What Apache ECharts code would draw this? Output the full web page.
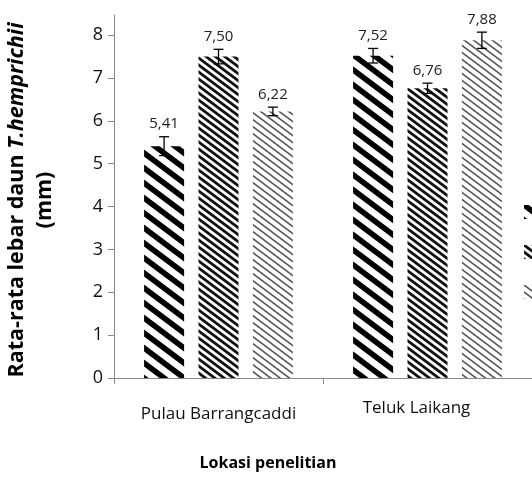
<!DOCTYPE html>
<html>
<head>
<meta charset="utf-8">
<script src="https://cdn.jsdelivr.net/npm/echarts@6/dist/echarts.min.js"></script>
<style>
  html, body { margin: 0; padding: 0; background: #fff; }
  #chart { width: 532px; height: 497px; }
</style>
</head>
<body>
<div id="chart"></div>
<script>
// Leaf width of T. hemprichii per location and station
const categories = ['Pulau Barrangcaddi', 'Teluk Laikang'];
const seriesNames = ['Stasiun 1', 'Stasiun 2', 'Stasiun 3'];
const station1 = [5.41, 7.52];
const station2 = [7.50, 6.76];
const station3 = [6.22, 7.88];
const errors1 = [0.22, 0.17];
const errors2 = [0.17, 0.12];
const errors3 = [0.10, 0.19];
const yTicks = [0, 1, 2, 3, 4, 5, 6, 7, 8];

const values = [station1, station2, station3];
const errors = [errors1, errors2, errors3];

// Diagonal stripe fills for the bars
function stripes(w, h, period, slope, width, color) {
  const c = document.createElement('canvas');
  c.width = w; c.height = h;
  const ctx = c.getContext('2d');
  ctx.fillStyle = '#fff';
  ctx.fillRect(0, 0, w, h);
  ctx.strokeStyle = color;
  ctx.lineWidth = width;
  for (let k = -h * 2; k <= h * 2; k += period) {
    ctx.beginPath();
    ctx.moveTo(-10, k - 10 * slope);
    ctx.lineTo(w + 10, k + (w + 10) * slope);
    ctx.stroke();
  }
  return { image: c, repeat: 'repeat' };
}
const fills = [
  stripes(20, 15, 15, 0.75, 5.6, '#000'),
  stripes(28, 21, 7, 0.75, 2.8, '#111'),
  stripes(28, 21, 7, 0.75, 1.6, '#555')
];

const BAR_W = 40;
const BAR_GAP = 14.4;
const FONT = '"Open Sans", "Noto Sans", sans-serif';

const barSeries = values.map((arr, s) => ({
  name: seriesNames[s],
  type: 'bar',
  data: arr,
  barWidth: BAR_W,
  barGap: (BAR_GAP / BAR_W * 100) + '%',
  itemStyle: { color: fills[s] },
  z: 2
}));

const errData = [];
values.forEach((arr, s) => arr.forEach((v, i) => errData.push([i, v, errors[s][i], s])));

const errorSeries = {
  type: 'custom',
  data: errData,
  z: 5,
  silent: true,
  renderItem: function (params, api) {
    const cat = api.value(0), v = api.value(1), e = api.value(2), s = api.value(3);
    const offset = (s - 1) * (BAR_W + BAR_GAP);
    const x = api.coord([cat, v])[0] + offset;
    const yTop = api.coord([cat, v + e])[1];
    const yBot = api.coord([cat, v - e])[1];
    const cap = 5;
    const st = { stroke: '#000', lineWidth: 1.3 };
    return {
      type: 'group',
      children: [
        { type: 'line', shape: { x1: x, y1: yTop, x2: x, y2: yBot }, style: st },
        { type: 'line', shape: { x1: x - cap, y1: yTop, x2: x + cap, y2: yTop }, style: st },
        { type: 'line', shape: { x1: x - cap, y1: yBot, x2: x + cap, y2: yBot }, style: st },
        {
          type: 'text',
          style: {
            x: x, y: yTop - 5,
            text: v.toFixed(2).replace('.', ','),
            align: 'center', verticalAlign: 'bottom',
            font: '15px ' + FONT, fill: '#222'
          }
        }
      ]
    };
  }
};

const chart = echarts.init(document.getElementById('chart'), null, { renderer: 'canvas' });
chart.setOption({
  animation: false,
  backgroundColor: '#fff',
  grid: { left: 114, top: 15, width: 420, bottom: 119, containLabel: false },
  legend: {
    data: seriesNames,
    orient: 'vertical',
    left: 519, top: 200,
    icon: 'rect', itemWidth: 14, itemHeight: 14, itemGap: 26,
    textStyle: { fontFamily: FONT, fontSize: 14, color: '#222' },
    selectedMode: false
  },
  xAxis: {
    type: 'category',
    data: categories,
    axisLine: { lineStyle: { color: '#8a8a8a', width: 1 } },
    axisTick: { show: true, length: 6, lineStyle: { color: '#8a8a8a' } },
    axisLabel: {
      interval: 0,
      hideOverlap: false,
      fontFamily: FONT, fontSize: 17, color: '#111', margin: 22,
      formatter: function (v, i) { return i === 0 ? '{low|' + v + '}' : '{high|' + v + '}'; },
      rich: {
        low: { fontFamily: FONT, fontSize: 17, color: '#111', padding: [6, 0, 0, 0] },
        high: { fontFamily: FONT, fontSize: 17, color: '#111', padding: [0, 22, 0, 0] }
      }
    }
  },
  yAxis: {
    type: 'value',
    min: 0, max: 8.47,
    interval: 1,
    axisLine: { show: true, lineStyle: { color: '#8a8a8a', width: 1 } },
    axisTick: { show: true, length: 6, lineStyle: { color: '#8a8a8a' }, customValues: yTicks },
    axisLabel: { fontFamily: FONT, fontSize: 18, color: '#111', margin: 11, customValues: yTicks },
    splitLine: { show: false }
  },
  graphic: [
    {
      type: 'text',
      x: 31, y: 200,
      rotation: Math.PI / 2,
      style: {
        text: '{a|Rata-rata lebar daun }{b|T.hemprichii}\n{a|(mm)}',
        align: 'center', verticalAlign: 'middle',
        rich: {
          a: { fontFamily: FONT, fontWeight: 'bold', fontSize: 21.5, fill: '#000', lineHeight: 28 },
          b: { fontFamily: FONT, fontWeight: 'bold', fontStyle: 'italic', fontSize: 21.5, fill: '#000', lineHeight: 28 }
        }
      }
    },
    {
      type: 'text',
      x: 268, y: 463,
      style: {
        text: 'Lokasi penelitian',
        align: 'center', verticalAlign: 'middle',
        font: 'bold 16px ' + FONT, fill: '#000'
      }
    }
  ],
  series: barSeries.concat([errorSeries])
});
</script>
</body>
</html>
